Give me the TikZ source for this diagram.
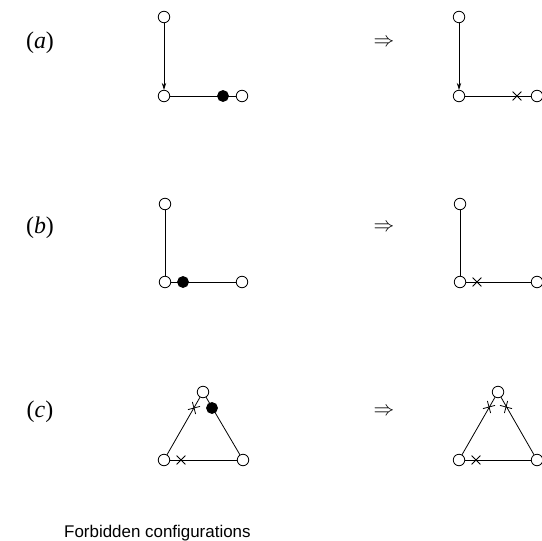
\documentclass[tikz,border=0pt]{standalone}
\usepackage{fontspec}
\setmainfont{Liberation Serif}
\setsansfont{Liberation Sans}
\usetikzlibrary{arrows.meta,shapes.misc}
\tikzset{
  vtx/.style={circle, draw, fill=white, inner sep=0pt, minimum size=11.5bp, line width=0.8bp},
  dotv/.style={circle, fill=black, draw=black, inner sep=0pt, minimum size=11bp, line width=0.8bp},
  edge/.style={line width=0.8bp},
  xmk/.style={cross out, draw, inner sep=0pt, minimum size=8bp, line width=0.8bp},
  lbl/.style={font=\fontsize{24}{28}\selectfont, inner sep=0pt},
  imp/.style={font=\fontsize{21}{25}\selectfont, inner sep=0pt},
  arr/.style={edge, -{Stealth[length=7bp,width=4.5bp]}}
}
\begin{document}
\begin{tikzpicture}[x=1bp,y=-1bp]
\useasboundingbox (0,0) rectangle (542,541);
% labels
\node[lbl] (la) at (40,43) {(\textit{a})};
\node[lbl] (lb) at (40,228) {(\textit{b})};
\node[lbl] (lc) at (40,412) {(\textit{c})};
\node[imp] (ia) at (384,43) {$\Rightarrow$};
\node[imp] (ib) at (384,228) {$\Rightarrow$};
\node[imp] (ic) at (384,412) {$\Rightarrow$};
% (a) left
\node[vtx] (A1) at (164,17) {};
\node[vtx] (A2) at (164,96) {};
\node[vtx] (A3) at (242,96) {};
\draw[arr] (A1) -- (A2);
\draw[edge] (A2) -- (A3);
\node[dotv] (Ad) at (223,96) {};
% (a) right
\node[vtx] (B1) at (459,17) {};
\node[vtx] (B2) at (459,96) {};
\node[vtx] (B3) at (537,96) {};
\draw[arr] (B1) -- (B2);
\draw[edge] (B2) -- (B3);
\node[xmk] (Bx) at (517,96) {};
% (b) left
\node[vtx] (C1) at (165,204) {};
\node[vtx] (C2) at (165,282) {};
\node[vtx] (C3) at (242,282) {};
\draw[edge] (C1) -- (C2);
\draw[edge] (C2) -- (C3);
\node[dotv] (Cd) at (183,282) {};
% (b) right
\node[vtx] (D1) at (460,204) {};
\node[vtx] (D2) at (460,282) {};
\node[vtx] (D3) at (537,282) {};
\draw[edge] (D1) -- (D2);
\draw[edge] (D2) -- (D3);
\node[xmk] (Dx) at (477,282) {};
% (c) left
\node[vtx] (E1) at (203,392) {};
\node[vtx] (E2) at (164,460) {};
\node[vtx] (E3) at (243,460) {};
\draw[edge] (E1) -- (E2);
\draw[edge] (E1) -- (E3);
\draw[edge] (E2) -- (E3);
\node[xmk, rotate=60] (Ex1) at (194,408) {};
\node[dotv] (Ed) at (212,408) {};
\node[xmk] (Ex2) at (181,460) {};
% (c) right
\node[vtx] (F1) at (498,392) {};
\node[vtx] (F2) at (459,460) {};
\node[vtx] (F3) at (537,460) {};
\draw[edge] (F1) -- (F2);
\draw[edge] (F1) -- (F3);
\draw[edge] (F2) -- (F3);
\node[xmk, rotate=60] (Fx1) at (489,407) {};
\node[xmk, rotate=-60] (Fx2) at (506,407) {};
\node[xmk] (Fx3) at (476,460) {};
% caption
\node[font=\sffamily\fontsize{17}{21}\selectfont, anchor=base west, inner sep=0pt] (cap) at (64,537) {Forbidden configurations};
\end{tikzpicture}
\end{document}
